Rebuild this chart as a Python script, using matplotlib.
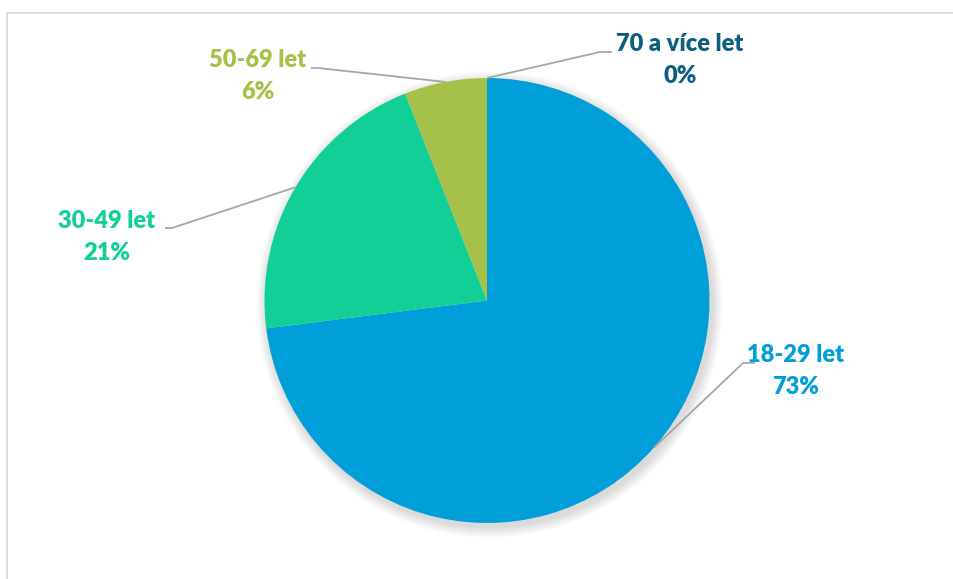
import numpy as np
import matplotlib
matplotlib.use("Agg")
import matplotlib.pyplot as plt
from matplotlib.patches import Rectangle, Circle

# Age groups and their shares (%)
categories = ["18-29 let", "30-49 let", "50-69 let", "70 a více let"]
shares = [73, 21, 6, 0]
colors = ["#009FDA", "#12CF98", "#A5C14A", "#0D5F7E"]

W, H = 954, 579
fig = plt.figure(figsize=(W / 100, H / 100), dpi=100)
fig.patch.set_facecolor("white")

# chart frame
fig.patches.append(Rectangle((7 / W, -0.05), 1.1, 1 - 12.5 / H + 0.05,
                             transform=fig.transFigure, fill=False,
                             edgecolor="#D9D9D9", linewidth=1.3))

# pie geometry in pixels
cx, cy, R = 487.0, 300.5, 222.5
ax = fig.add_axes([0, 0, 1, 1])


def px(x, y):
    return ((x - cx) / R, (cy - y) / R)


# soft drop shadow
for i in range(12):
    ax.add_patch(Circle((0.012, -0.018), 1.0 + 0.004 * (12 - i),
                        color="black", alpha=0.012, lw=0, zorder=1))

wedges, _ = ax.pie(shares, colors=colors, startangle=90, counterclock=False,
                   radius=1.0, center=(0, 0), frame=True,
                   wedgeprops=dict(linewidth=0, zorder=2))
ax.set_xlim(-cx / R, (W - cx) / R)
ax.set_ylim((cy - H) / R, cy / R)
ax.set_aspect("equal")
ax.axis("off")

# label placement: (text centre x, first line y, elbow x, elbow y, side)
label_pos = {
    "18-29 let": (796, 355, 743, 363, "right"),
    "30-49 let": (107, 221, 172, 228, "left"),
    "50-69 let": (258, 60, 318, 68, "left"),
    "70 a více let": (680, 44, 600, 52, "right"),
}

total = sum(shares)
start = 90.0
for name, val, col in zip(categories, shares, colors):
    sweep = 360.0 * val / total
    mid = np.deg2rad(start - sweep / 2)
    start -= sweep
    ex, ey = np.cos(mid), np.sin(mid)
    tx, ty, bx, by, side = label_pos[name]
    hx = bx + 12 if side == "right" else bx - 7
    p1 = px(bx, by)
    p2 = px(hx, by)
    ax.plot([ex, p1[0], p2[0]], [ey, p1[1], p2[1]], color="#A6A6A6",
            lw=1.3, zorder=3, solid_capstyle="butt")
    lx, ly = px(tx, ty)
    ax.text(lx, ly, name, color=col, ha="center", va="center",
            fontsize=17, fontweight="heavy", family="Lato", zorder=4)
    lx2, ly2 = px(tx, ty + 32)
    ax.text(lx2, ly2, f"{val}%", color=col, ha="center", va="center",
            fontsize=17, fontweight="heavy", family="Lato", zorder=4)

fig.savefig("out.png", dpi=100, facecolor="white")
